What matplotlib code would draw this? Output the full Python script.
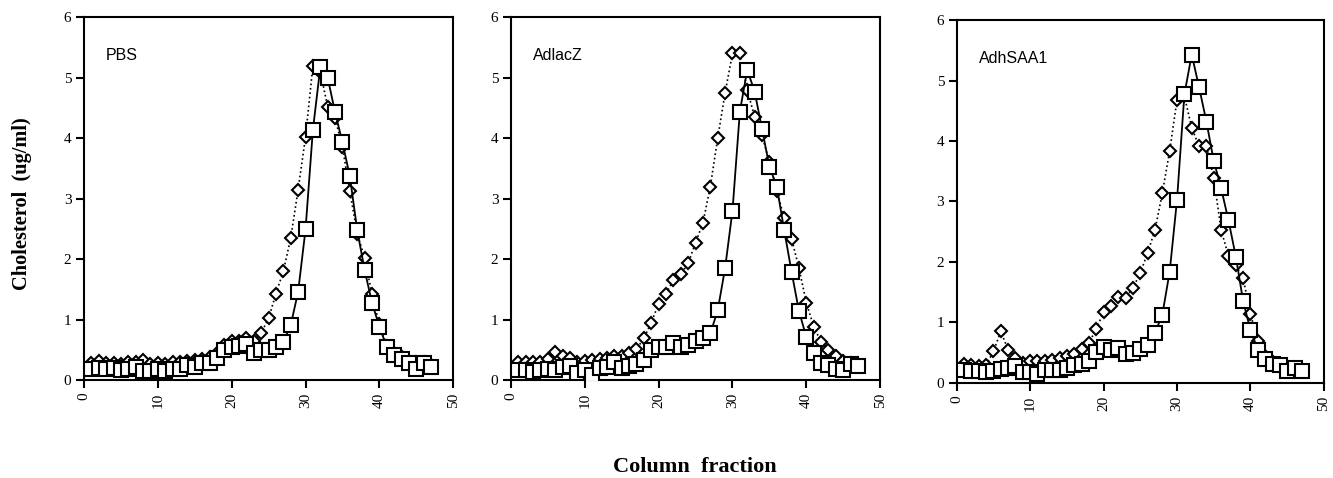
import numpy as np
import matplotlib
matplotlib.use("Agg")
import matplotlib.pyplot as plt

# ====== DATA ======
fractions = list(range(1, 48))

pbs_diamond = [0.28, 0.31, 0.28, 0.28, 0.27, 0.30, 0.29, 0.33, 0.27, 0.28,
               0.27, 0.30, 0.30, 0.32, 0.33, 0.35, 0.38, 0.45, 0.58, 0.65,
               0.65, 0.70, 0.64, 0.78, 1.02, 1.43, 1.80, 2.35, 3.15, 4.02,
               5.20, 5.10, 4.52, 4.33, 3.85, 3.12, 2.42, 2.02, 1.42, 0.92,
               0.57, 0.45, 0.38, 0.32, 0.30, 0.30, 0.25]
pbs_square = [0.18, 0.20, 0.19, 0.20, 0.17, 0.19, 0.22, 0.15, 0.15, 0.19,
              0.15, 0.19, 0.18, 0.25, 0.22, 0.28, 0.28, 0.37, 0.50, 0.55,
              0.56, 0.60, 0.44, 0.50, 0.50, 0.55, 0.63, 0.91, 1.46, 2.49,
              4.14, 5.17, 5.00, 4.43, 3.93, 3.37, 2.48, 1.82, 1.28, 0.88,
              0.55, 0.41, 0.34, 0.28, 0.19, 0.28, 0.21]

adlacz_diamond = [0.29, 0.29, 0.29, 0.30, 0.34, 0.47, 0.39, 0.36, 0.29, 0.31,
                  0.33, 0.34, 0.37, 0.39, 0.40, 0.44, 0.51, 0.69, 0.95, 1.26,
                  1.43, 1.65, 1.75, 1.93, 2.27, 2.60, 3.20, 4.00, 4.75, 5.40,
                  5.40, 4.80, 4.35, 4.05, 3.60, 3.13, 2.68, 2.34, 1.85, 1.28,
                  0.88, 0.63, 0.50, 0.40, 0.32, 0.28, 0.25]
adlacz_square = [0.17, 0.17, 0.14, 0.17, 0.18, 0.17, 0.22, 0.23, 0.11, 0.17,
                 0.09, 0.20, 0.21, 0.30, 0.20, 0.23, 0.26, 0.33, 0.50, 0.55,
                 0.55, 0.62, 0.54, 0.58, 0.65, 0.70, 0.77, 1.15, 1.85, 2.80,
                 4.44, 5.13, 4.77, 4.15, 3.53, 3.20, 2.48, 1.79, 1.14, 0.71,
                 0.44, 0.28, 0.25, 0.19, 0.17, 0.27, 0.23]

adhsaa1_diamond = [0.31, 0.29, 0.28, 0.29, 0.52, 0.85, 0.55, 0.41, 0.33, 0.37,
                   0.36, 0.37, 0.38, 0.41, 0.44, 0.47, 0.56, 0.66, 0.89, 1.17,
                   1.27, 1.42, 1.41, 1.57, 1.82, 2.15, 2.53, 3.14, 3.84, 4.68,
                   4.74, 4.22, 3.91, 3.92, 3.38, 2.53, 2.10, 1.95, 1.73, 1.14,
                   0.69, 0.45, 0.35, 0.30, 0.25, 0.25, 0.22]
adhsaa1_square = [0.21, 0.19, 0.20, 0.18, 0.20, 0.23, 0.24, 0.28, 0.18, 0.18,
                  0.14, 0.21, 0.21, 0.22, 0.25, 0.29, 0.31, 0.36, 0.51, 0.60,
                  0.55, 0.58, 0.48, 0.50, 0.56, 0.63, 0.83, 1.13, 1.84, 3.03,
                  4.77, 5.43, 4.89, 4.32, 3.67, 3.22, 2.69, 2.09, 1.35, 0.87,
                  0.55, 0.39, 0.31, 0.30, 0.19, 0.25, 0.20]

panel_labels = ["PBS", "AdlacZ", "AdhSAA1"]
diamond_series = [pbs_diamond, adlacz_diamond, adhsaa1_diamond]
square_series = [pbs_square, adlacz_square, adhsaa1_square]

x_ticks = [0, 10, 20, 30, 40, 50]
y_ticks = [0, 1, 2, 3, 4, 5, 6]

# axes boxes in figure fractions [left, bottom, width, height]
AX_BOXES = [
    [0.063, 0.205, 0.277, 0.759],
    [0.3833, 0.205, 0.277, 0.759],
    [0.7177, 0.199, 0.2755, 0.759],
]

SERIF = ["Liberation Serif", "DejaVu Serif"]
SANS = ["Liberation Sans", "DejaVu Sans"]


def draw_panel(ax, label, dia, sq):
    ax.plot(fractions, dia, color="black", linestyle=":", linewidth=1.2,
            marker="D", markersize=6.2, markerfacecolor="white",
            markeredgecolor="black", markeredgewidth=1.5, zorder=2)
    ax.plot(fractions, sq, color="black", linestyle="-", linewidth=1.3,
            marker="s", markersize=10, markerfacecolor="white",
            markeredgecolor="black", markeredgewidth=1.5, zorder=3)

    ax.set_xlim(0, 50)
    ax.set_ylim(0, 6)
    ax.set_xticks(x_ticks)
    ax.set_yticks(y_ticks)
    ax.set_xticklabels([str(t) for t in x_ticks], rotation=90,
                       family=SERIF, fontsize=11)
    ax.set_yticklabels([str(t) for t in y_ticks], family=SERIF, fontsize=11)
    ax.tick_params(direction="out", length=6, width=1.5, pad=3)
    for sp in ax.spines.values():
        sp.set_linewidth(1.5)
    ax.text(0.06, 0.895, label, transform=ax.transAxes, family=SANS,
            fontsize=11.5, ha="left", va="center")


fig = plt.figure(figsize=(13.33, 4.78), dpi=100)

for box, label, dia, sq in zip(AX_BOXES, panel_labels, diamond_series, square_series):
    ax = fig.add_axes(box)
    draw_panel(ax, label, dia, sq)

fig.text(0.0165, 0.575, "Cholesterol  (ug/ml)", rotation=90, ha="center",
         va="center", family=SERIF, fontweight="bold", fontsize=14.7)
fig.text(0.521, 0.023, "Column  fraction", ha="center", va="center",
         family=SERIF, fontweight="bold", fontsize=16)

fig.savefig("out.png", dpi=100, facecolor="white")
